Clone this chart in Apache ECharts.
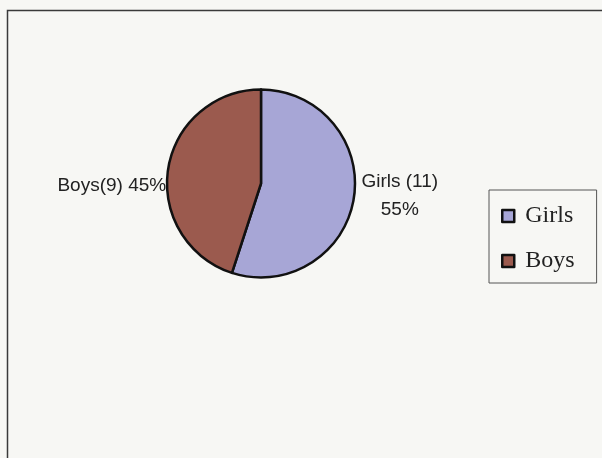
<!DOCTYPE html>
<html><head><meta charset="utf-8">
<script src="https://cdn.jsdelivr.net/npm/echarts@6/dist/echarts.min.js"></script>
<style>html,body{margin:0;padding:0;background:#f7f7f4}#c{width:602px;height:458px}</style>
</head><body><div id="c"></div>
<script>
var categories = ['Girls', 'Boys'];
var counts = [11, 9];
var percents = [55, 45];
var colors = ['#a7a6d6', '#9b5a4e'];

var chart = echarts.init(document.getElementById('c'));
var data = categories.map(function (n, i) {
  return { name: n, value: counts[i], itemStyle: { color: colors[i] } };
});
chart.setOption({
  backgroundColor: '#f7f7f4',
  animation: false,
  graphic: [{
    type: 'rect', left: 5, top: 8,
    shape: { width: 640, height: 480 },
    style: { fill: 'none', stroke: '#3a3a3a', lineWidth: 1.5 }, z: -1
  }],
  legend: {
    orient: 'vertical', left: 489, top: 190,
    padding: [14, 22, 10, 12], itemGap: 21,
    borderColor: '#555', borderWidth: 1,
    itemWidth: 12, itemHeight: 12, icon: 'rect',
    itemStyle: { borderColor: '#111', borderWidth: 2.5 },
    textStyle: { fontFamily: 'Liberation Serif', fontSize: 24, color: '#222', lineHeight: 24, padding: [0, 0, 0, 6] },
    data: categories
  },
  series: [{
    type: 'pie', center: [261, 183.5], radius: 94,
    startAngle: 90, clockwise: true,
    itemStyle: { borderColor: '#111', borderWidth: 2.5 },
    label: {
      show: true, position: 'outside',
      fontFamily: 'Liberation Sans', fontSize: 19, color: '#222', lineHeight: 28,
      formatter: function (p) {
        var i = p.dataIndex;
        if (i === 0) return '{c|' + categories[i] + ' (' + counts[i] + ')}\n{c|' + percents[i] + '%}';
        return categories[i] + '(' + counts[i] + ') ' + percents[i] + '%';
      },
      rich: {
        c: { fontFamily: 'Liberation Sans', fontSize: 19, color: '#222', lineHeight: 28, width: 86, align: 'center' }
      }
    },
    labelLine: { show: false, length: 3, length2: 0 },
    labelLayout: function (p) {
      return p.dataIndex === 1 ? { dx: 6, dy: 17 } : { dx: -5, dy: -3 };
    },
    emphasis: { disabled: true },
    data: data
  }]
});
</script></body></html>
